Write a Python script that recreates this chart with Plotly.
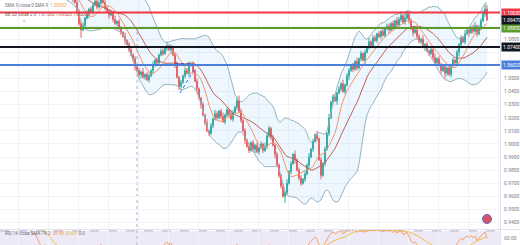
import numpy as np
import pandas as pd
import plotly.graph_objects as go

# ---------------- data ----------------
close = [
    # hidden above the visible range (left edge)
    1.1320, 1.1335, 1.1310, 1.1290, 1.1305, 1.1340, 1.1365, 1.1350, 1.1380, 1.1410,
    1.1435, 1.1420, 1.1450, 1.1470, 1.1440, 1.1415, 1.1395, 1.1410, 1.1380, 1.1355,
    1.1320, 1.1300, 1.1330, 1.1290, 1.1255, 1.1270, 1.1230, 1.1205, 1.1180, 1.1215,
    1.1190, 1.1160, 1.1175, 1.1140, 1.1120, 1.1150, 1.1110, 1.1080,
    # first dip and rebound
    1.1010, 1.0920, 1.0870, 1.0905, 1.0960,
    1.0990, 1.1030, 1.1005, 1.1060, 1.1090, 1.1045, 1.1075, 1.1110, 1.1080, 1.1040,
    # decline
    1.1010, 1.0985, 1.1000, 1.0950, 1.0920, 1.0935, 1.0880, 1.0850, 1.0820, 1.0790,
    1.0760, 1.0720, 1.0680, 1.0650, 1.0590, 1.0560, 1.0530,
    1.0550, 1.0510, 1.0530, 1.0490, 1.0520, 1.0560,
    1.0600, 1.0640, 1.0620, 1.0680, 1.0710, 1.0690, 1.0730, 1.0750, 1.0720, 1.0740,
    1.0680, 1.0600, 1.0510, 1.0440,
    1.0470, 1.0520, 1.0560, 1.0540, 1.0600, 1.0610,
    1.0560, 1.0480, 1.0420, 1.0350, 1.0300, 1.0220, 1.0160, 1.0100, 1.0080,
    1.0140, 1.0190, 1.0230, 1.0200, 1.0250, 1.0210, 1.0170, 1.0220, 1.0260, 1.0230,
    1.0190, 1.0240, 1.0280, 1.0330, 1.0250,
    1.0180, 1.0100, 1.0030, 0.9980, 0.9950,
    1.0010, 0.9960, 0.9990, 0.9940, 0.9970, 1.0000, 0.9950, 0.9980,
    1.0060, 1.0120, 1.0050,
    0.9990, 0.9920, 0.9840, 0.9760, 0.9680, 0.9600,
    0.9630,
    # recovery
    0.9700, 0.9790, 0.9850, 0.9920, 0.9880,
    0.9800, 0.9740, 0.9700, 0.9730, 0.9770,
    0.9840, 0.9900, 0.9960, 1.0020, 1.0070, 1.0040,
    0.9880, 0.9760,
    0.9850, 0.9960, 1.0080, 1.0200, 1.0320, 1.0360,
    1.0330, 1.0390, 1.0420, 1.0460, 1.0400, 1.0450, 1.0520, 1.0560, 1.0600, 1.0570,
    1.0630, 1.0580, 1.0650, 1.0690, 1.0640, 1.0700,
    1.0740, 1.0780, 1.0750, 1.0810, 1.0790, 1.0840, 1.0820, 1.0860,
    1.0830, 1.0880, 1.0900, 1.0870, 1.0920, 1.0890, 1.0940, 1.0910,
    1.0950, 1.0980, 1.0930, 1.0960, 1.0990, 1.0940, 1.0880,
    # pullback
    1.0850, 1.0870, 1.0820, 1.0780, 1.0800, 1.0740, 1.0760, 1.0710, 1.0690, 1.0720,
    1.0660, 1.0620, 1.0650, 1.0600, 1.0560, 1.0590, 1.0540,
    1.0580, 1.0530, 1.0600, 1.0640, 1.0620,
    # final rally
    1.0700, 1.0760, 1.0810, 1.0780, 1.0840, 1.0870,
    1.0850, 1.0890, 1.0860, 1.0900, 1.0840,
    1.0890, 1.0940, 1.0990, 1.1030, 1.0947,
]
first_open = 1.1300
# wick lengths per candle, in units of 0.001
upper_wick = ("2132131221" "3121232112" "1231212312" "2121312132" "2213122312"
              "3121221312" "2131221212" "1312213121" "2213121231" "2122312121"
              "1213121321" "2312132134" "2121312121" "2133212121" "1213121312"
              "2121312131" "2121312212" "1312212131" "2121312212" "1312212132"
              "2143121212" "1312121312" "2121312121" "2131212312" "2343")
lower_wick = ("1213121312" "2131212121" "3121231212" "1213123122" "6121312121"
              "2121312121" "2131212312" "3121213121" "1212131213" "2121212131"
              "3121212121" "2121312121" "2131212312" "1212121312" "2152121312"
              "2121312121" "3121212131" "2121312121" "2131212121" "2121312121"
              "2121213121" "2131212121" "3142121213" "2121312121" "2121")

level_prices = [1.1003, 1.0885, 1.0740, 1.0602]
level_colors = ["#f23645", "#5b9b2c", "#131722", "#4a7fdc"]
level_texts = ["1.10030", "1.08850", "1.07400", "1.06020"]
last_price_text = "1.09470"

price_ticks = [0.94, 0.95, 0.96, 0.97, 0.98, 0.99, 1.00, 1.01, 1.02, 1.03,
               1.04, 1.05, 1.06, 1.07, 1.08, 1.09, 1.10]

divider_bar = 68
drawing_flat = ([87, 96], [1.0615, 1.0612])
drawing_diag = ([89.5, 97], [1.0389, 1.0580])

legend_sma = "SMA 9 close 0 SMA 9"
legend_sma_val = "1.09903"
legend_bb = "BB 20 close 2 0"
legend_bb_vals = ["1.07583", "1.09503", "1.05663"]
legend_rsi = "RSI 14 close SMA 14 2"
legend_rsi_vals = ["38.48", "39.64", "0.0"]

# ---------------- build ----------------
assert len(upper_wick) == len(close) and len(lower_wick) == len(close)
n = len(close)
idx = list(range(n))
opens = [first_open] + close[:-1]
highs = [max(o, c) + int(w) / 1000 for o, c, w in zip(opens, close, upper_wick)]
lows = [min(o, c) - int(w) / 1000 for o, c, w in zip(opens, close, lower_wick)]

s = pd.Series(close)
basis = s.rolling(20).mean()
dev = s.rolling(20).std(ddof=0)
upper = basis + 2 * dev
lower = basis - 2 * dev
sma9 = s.rolling(9).mean()
delta = s.diff()
gain = delta.clip(lower=0).ewm(alpha=1 / 14, adjust=False).mean()
loss = (-delta.clip(upper=0)).ewm(alpha=1 / 14, adjust=False).mean()
rsi = 100 - 100 / (1 + gain / loss)
rsi_sma = rsi.rolling(14).mean()

W, H = 520, 245
main_bottom_px = 229
rsi_top_px = 230
y_top = 1.1099
px_per_unit = 1310
y_bot = y_top - main_bottom_px / px_per_unit

fig = go.Figure()

fig.add_trace(go.Scatter(x=idx, y=upper, mode="lines",
                         line=dict(color="#98b4bc", width=1), hoverinfo="skip"))
fig.add_trace(go.Scatter(x=idx, y=lower, mode="lines",
                         line=dict(color="#98b4bc", width=1), fill="tonexty",
                         fillcolor="rgba(33,150,243,0.08)", hoverinfo="skip"))
fig.add_trace(go.Scatter(x=idx, y=basis, mode="lines",
                         line=dict(color="#c0625b", width=1), hoverinfo="skip"))
fig.add_trace(go.Candlestick(
    x=idx, open=opens, high=highs, low=lows, close=close,
    increasing=dict(line=dict(color="#3aae9c", width=1), fillcolor="#3aae9c"),
    decreasing=dict(line=dict(color="#f06262", width=1), fillcolor="#f06262"),
    whiskerwidth=0, hoverinfo="skip"))
fig.add_trace(go.Scatter(x=idx, y=sma9, mode="lines",
                         line=dict(color="#f2966a", width=1), hoverinfo="skip"))
fig.add_trace(go.Scatter(x=drawing_flat[0], y=drawing_flat[1], mode="lines",
                         line=dict(color="#2962ff", width=1, dash="dot"), hoverinfo="skip"))
fig.add_trace(go.Scatter(x=drawing_diag[0], y=drawing_diag[1], mode="lines",
                         line=dict(color="#2962ff", width=1, dash="dot"), hoverinfo="skip"))

# RSI pane
fig.add_trace(go.Scatter(x=idx, y=rsi_sma, mode="lines", xaxis="x2", yaxis="y2",
                         line=dict(color="#f2c14e", width=1), hoverinfo="skip"))
fig.add_trace(go.Scatter(x=idx, y=rsi, mode="lines", xaxis="x2", yaxis="y2",
                         line=dict(color="#f4a36a", width=1), hoverinfo="skip"))

shapes = []
for p, col in zip(level_prices, level_colors):
    shapes.append(dict(type="line", xref="paper", x0=0, x1=1, yref="y", y0=p, y1=p,
                       line=dict(color=col, width=2), layer="above"))
shapes.append(dict(type="rect", xref="paper", x0=0, x1=1, yref="y2", y0=30, y1=70,
                   fillcolor="rgba(126,87,194,0.13)", line=dict(width=0), layer="below"))
shapes.append(dict(type="line", xref="paper", x0=0, x1=1, yref="y2", y0=70, y1=70,
                   line=dict(color="#b8b0cc", width=1, dash="dash"), layer="below"))
shapes.append(dict(type="line", xref="paper", x0=0, x1=1.04, yref="paper",
                   y0=1 - rsi_top_px / H + 0.002, y1=1 - rsi_top_px / H + 0.002,
                   line=dict(color="#e0e3eb", width=1)))
shapes.append(dict(type="line", xref="x", x0=divider_bar, x1=divider_bar, yref="paper",
                   y0=0, y1=0.9, line=dict(color="#b2b5be", width=1, dash="dot"),
                   layer="below"))
# small currency icon near bottom right of the price pane
shapes.append(dict(type="circle", xref="paper", yref="paper",
                   x0=(482.5) / 500, x1=(491.5) / 500,
                   y0=1 - 223.5 / H, y1=1 - 214.5 / H,
                   fillcolor="#d9546b", line=dict(color="#5b6bb5", width=1)))

annotations = []
for p, col, t in zip(level_prices, level_colors, level_texts):
    annotations.append(dict(x=1, xref="paper", xanchor="left", xshift=1, y=p, yref="y",
                            text=t, showarrow=False, bgcolor=col, borderpad=1,
                            font=dict(color="white", size=5, family="Roboto")))
annotations.append(dict(x=1, xref="paper", xanchor="left", xshift=1, y=close[-1], yref="y",
                        text=last_price_text, showarrow=False, bgcolor="#131722", borderpad=1,
                        font=dict(color="white", size=5, family="Roboto")))
annotations.append(dict(x=0.006, xref="paper", xanchor="left", y=1 - 5 / H, yref="paper",
                        yanchor="middle", showarrow=False,
                        text=f"{legend_sma}  <span style='color:#f0a030'>{legend_sma_val}</span>",
                        font=dict(color="#6a6d78", size=4.5, family="Roboto")))
annotations.append(dict(x=0.006, xref="paper", xanchor="left", y=1 - 14 / H, yref="paper",
                        yanchor="middle", showarrow=False,
                        text=(f"{legend_bb}  <span style='color:#c0504d'>{legend_bb_vals[0]}</span> "
                              f"<span style='color:#c0504d'>{legend_bb_vals[1]}</span> "
                              f"<span style='color:#c0504d'>{legend_bb_vals[2]}</span>"),
                        font=dict(color="#7a5a5e", size=4.5, family="Roboto")))
annotations.append(dict(x=0.04, xref="paper", xanchor="left", y=1 - 22 / H, yref="paper",
                        yanchor="middle", showarrow=False, text="⌃",
                        font=dict(color="#6a6d78", size=5, family="DejaVu Sans")))
annotations.append(dict(x=0.006, xref="paper", xanchor="left", y=1 - 233 / H, yref="paper",
                        yanchor="middle", showarrow=False,
                        text=(f"{legend_rsi}  <span style='color:#e8a35a'>{legend_rsi_vals[0]}</span> "
                              f"<span style='color:#e6c040'>{legend_rsi_vals[1]}</span>  "
                              f"{legend_rsi_vals[2]}"),
                        font=dict(color="#6a6d78", size=4.5, family="Roboto")))

tick_text = []
for t in price_ticks:
    hidden = any(abs(t - p) < 0.005 for p in level_prices)
    tick_text.append("" if hidden else f"{t:.4f}")

grid_col = "#f0f3fa"
fig.update_layout(
    width=W, height=H,
    margin=dict(l=0, r=20, t=0, b=0),
    paper_bgcolor="white", plot_bgcolor="white",
    showlegend=False,
    shapes=shapes, annotations=annotations,
    xaxis=dict(domain=[0, 1], anchor="y", range=[-0.5, 249.5], showticklabels=False,
               tick0=8.5, dtick=15, showgrid=True, gridcolor=grid_col, zeroline=False,
               rangeslider=dict(visible=False), fixedrange=True),
    yaxis=dict(domain=[1 - main_bottom_px / H, 1], anchor="x", side="right",
               range=[y_bot, y_top], tickvals=price_ticks, ticktext=tick_text,
               showgrid=True, gridcolor=grid_col, zeroline=False,
               tickfont=dict(size=5, color="#7b7e88", family="Roboto"),
               showline=True, linecolor="#e0e3eb", linewidth=1, ticks="", ticklabelstandoff=2),
    xaxis2=dict(domain=[0, 1], anchor="y2", matches="x", range=[-0.5, 249.5],
                showticklabels=False, tick0=8.5, dtick=15, showgrid=True,
                gridcolor=grid_col, zeroline=False),
    yaxis2=dict(domain=[0, 1 - rsi_top_px / H], anchor="x2", side="right",
                range=[50.5, 71.25], tickvals=[60], ticktext=["60.00"],
                showgrid=False, zeroline=False,
                tickfont=dict(size=5, color="#7b7e88", family="Roboto"),
                showline=True, linecolor="#e0e3eb", linewidth=1, ticklabelstandoff=2),
)

fig.write_html("out.html")
